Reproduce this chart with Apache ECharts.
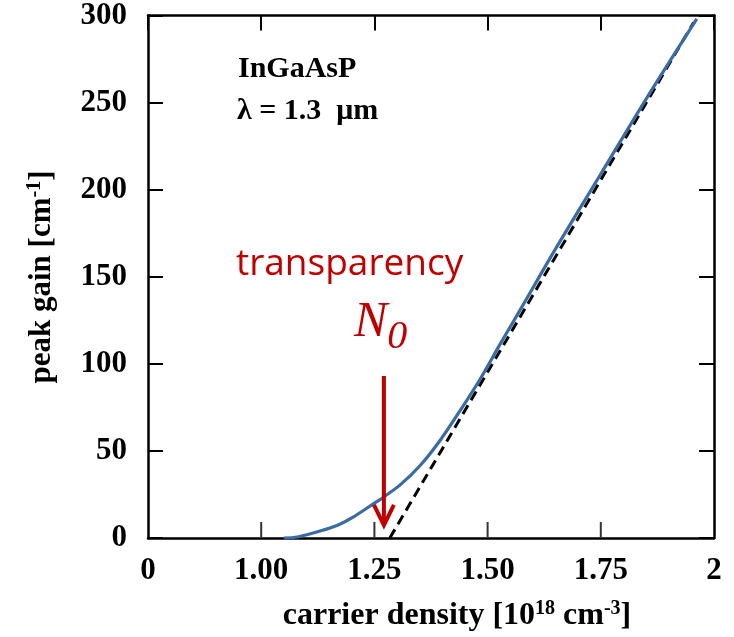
<!DOCTYPE html>
<html>
<head>
<meta charset="utf-8">
<script src="https://cdn.jsdelivr.net/npm/echarts@6/dist/echarts.min.js"></script>
<style>html,body{margin:0;padding:0;background:#fff}#c{width:734px;height:637px}</style>
</head>
<body>
<div id="c"></div>
<script>
// Peak gain curve (x in 1e18 cm^-3, y in cm^-1)
const gainCurve = [
  [1.05, 0], [1.08, 0.6], [1.13, 4], [1.17, 7.5], [1.203, 12], [1.247, 19.5],
  [1.262, 22], [1.307, 30.5], [1.351, 41.6], [1.395, 56], [1.439, 73],
  [1.483, 91], [1.527, 111], [1.572, 131], [1.65, 166], [1.75, 209],
  [1.85, 252], [1.962, 298]
];
// Linear asymptote (dashed)
const linearFit = [[1.284, 0], [1.955, 296]];
// Transparency arrow
const arrowShaft = [[1.271, 93], [1.271, 8]];
const arrowHead = [[1.249, 19], [1.271, 7.4], [1.293, 19]];
// Axis settings
const xMin = 0.75, xMax = 2, xStep = 0.25;
const yMin = 0, yMax = 300, yStep = 50;
const xTickValues = [1.0, 1.25, 1.5, 1.75];
const xTickLabels = {0.75: '0', 1: '1.00', 1.25: '1.25', 1.5: '1.50', 1.75: '1.75', 2: '2'};

const serif = '"Liberation Serif", "Times New Roman", serif';
const red = '#c00000';
const blue = '#3a6ca3';

const chart = echarts.init(document.getElementById('c'), null, {renderer: 'canvas'});
const axisLineStyle = {color: '#000', width: 2.5};
const tickStyle = {color: '#000', width: 2};
chart.setOption({
  animation: false,
  grid: {left: 148, right: 20, top: 12, bottom: 99},
  xAxis: [{
    type: 'value', min: xMin, max: xMax, interval: xStep, position: 'bottom',
    axisLine: {show: true, onZero: false, lineStyle: axisLineStyle},
    axisTick: {show: false},
    splitLine: {show: false},
    axisLabel: {
      margin: 17, color: '#000', fontFamily: serif, fontWeight: 'bold', fontSize: 31,
      formatter: v => xTickLabels[Math.round(v * 100) / 100] ?? v.toFixed(2)
    }
  }, {
    type: 'value', min: xMin, max: xMax, interval: xStep, position: 'top',
    axisLine: {show: true, onZero: false, lineStyle: axisLineStyle},
    axisTick: {show: true, inside: true, length: 15, lineStyle: tickStyle},
    splitLine: {show: false}, axisLabel: {show: false}
  }],
  yAxis: [{
    type: 'value', min: yMin, max: yMax, interval: yStep, position: 'left',
    axisLine: {show: true, onZero: false, lineStyle: axisLineStyle},
    axisTick: {show: true, inside: true, length: 15, lineStyle: tickStyle},
    splitLine: {show: false},
    axisLabel: {margin: 21, color: '#000', fontFamily: serif, fontWeight: 'bold', fontSize: 31}
  }, {
    type: 'value', min: yMin, max: yMax, interval: yStep, position: 'right',
    axisLine: {show: true, onZero: false, lineStyle: axisLineStyle},
    axisTick: {show: true, inside: true, length: 15, lineStyle: tickStyle},
    splitLine: {show: false}, axisLabel: {show: false}
  }],
  series: [{
    type: 'scatter', data: xTickValues.map(v => [v, 0]), silent: true,
    symbol: 'rect', symbolSize: [2, 15], symbolOffset: [0, -8.5],
    itemStyle: {color: '#000'}, z: 1
  }, {
    type: 'line', data: linearFit, symbol: 'none', silent: true,
    lineStyle: {color: '#000', width: 3, type: [10, 6]}, z: 2
  }, {
    type: 'line', data: gainCurve, symbol: 'none', smooth: 0.3, silent: true,
    lineStyle: {color: blue, width: 3.2}, z: 3
  }, {
    type: 'line', data: arrowShaft, symbol: 'none', silent: true,
    lineStyle: {color: red, width: 4}, z: 4
  }, {
    type: 'line', data: arrowHead, symbol: 'none', silent: true,
    lineStyle: {color: red, width: 4, join: 'miter', cap: 'butt'}, z: 4
  }],
  graphic: [{
    type: 'text', left: 238, top: 54,
    style: {text: 'InGaAsP', font: 'bold 30px ' + serif, fill: '#000'}
  }, {
    type: 'text', left: 237, top: 96,
    style: {text: 'λ = 1.3  μm', font: 'bold 30px ' + serif, fill: '#000'}
  }, {
    type: 'text', left: 236, top: 246,
    style: {text: 'transparency', font: '37px "Open Sans", sans-serif', fill: red}
  }, {
    type: 'text', left: 354, top: 298,
    style: {
      text: '{n|N}{s|0}',
      rich: {
        n: {fontFamily: serif, fontStyle: 'italic', fontSize: 50, fill: red},
        s: {fontFamily: serif, fontStyle: 'italic', fontSize: 40, fill: red, padding: [28, 0, 0, 0]}
      }
    }
  }, {
    type: 'text', x: 457, y: 616,
    style: {
      text: '{a|carrier density [10}{s|18}{a| cm}{s|-3}{a|]}',
      align: 'center', verticalAlign: 'middle',
      rich: {
        a: {fontFamily: serif, fontWeight: 'bold', fontSize: 32, fill: '#000'},
        s: {fontFamily: serif, fontWeight: 'bold', fontSize: 20, fill: '#000', padding: [0, 0, 15, 0]}
      }
    }
  }, {
    type: 'text', x: 42, y: 277, rotation: Math.PI / 2,
    style: {
      text: '{a|peak gain [cm}{s|-1}{a|]}',
      align: 'center', verticalAlign: 'middle',
      rich: {
        a: {fontFamily: serif, fontWeight: 'bold', fontSize: 31, fill: '#000'},
        s: {fontFamily: serif, fontWeight: 'bold', fontSize: 20, fill: '#000', padding: [0, 0, 15, 0]}
      }
    }
  }]
});
</script>
</body>
</html>
